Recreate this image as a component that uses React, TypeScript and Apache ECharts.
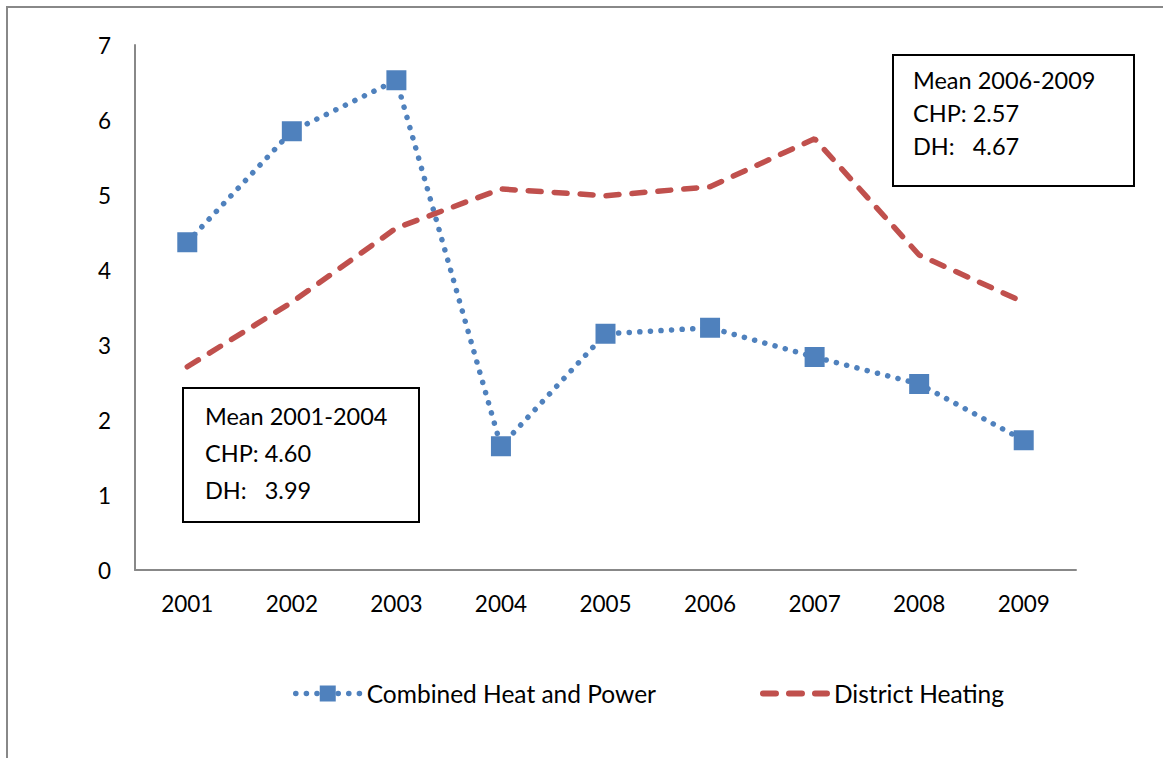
import React, { useEffect, useRef } from "react";
import * as echarts from "echarts";

const years = ["2001", "2002", "2003", "2004", "2005", "2006", "2007", "2008", "2009"];
const chpValues = [4.37, 5.85, 6.53, 1.65, 3.15, 3.23, 2.84, 2.48, 1.73];
const dhValues = [2.71, 3.57, 4.56, 5.08, 4.99, 5.11, 5.75, 4.2, 3.57];
const seriesNames = ["Combined Heat and Power", "District Heating"];
const box1Lines = ["Mean 2001-2004", "CHP: 4.60", "DH:   3.99"];
const box2Lines = ["Mean 2006-2009", "CHP: 2.57", "DH:   4.67"];

const FONT = "Lato, 'Open Sans', sans-serif";
const FS_AXIS = 22.5;
const FS_BOX = 23.5;
const FS_LEG = 24.5;
const CHP_COLOR = "#4F81BD";
const DH_COLOR = "#C0504D";
const CHP_DASH = [0.1, 10.5];
const DH_DASH = [13, 13];

export default function App() {
  const ref = useRef<HTMLDivElement>(null);
  useEffect(() => {
    if (!ref.current) return;
    const chart = echarts.init(ref.current, null, { renderer: "svg" });
    const boxText = (lines: string[], x: number, y: number, gap: number) =>
      lines.map((t, i) => ({
        type: "text",
        left: x,
        top: y + i * gap,
        style: { text: t, font: `${FS_BOX}px ${FONT}`, fill: "#000" },
      }));
    chart.setOption({
      animation: false,
      textStyle: { fontFamily: FONT },
      grid: { left: 135, right: 87, top: 45, bottom: 188, containLabel: false },
      xAxis: {
        type: "category",
        data: years,
        boundaryGap: true,
        axisLine: { lineStyle: { color: "#888", width: 2 } },
        axisTick: { show: false },
        axisLabel: { color: "#000", fontSize: FS_AXIS, margin: 22, fontFamily: FONT },
      },
      yAxis: {
        type: "value",
        min: 0,
        max: 7,
        interval: 1,
        axisLine: { show: true, lineStyle: { color: "#888", width: 2 } },
        axisTick: { show: false },
        splitLine: { show: false },
        axisLabel: { color: "#000", fontSize: FS_AXIS, margin: 24, fontFamily: FONT },
      },
      legend: {
        bottom: 47,
        left: 288,
        itemWidth: 64,
        itemHeight: 20,
        itemGap: 104,
        textStyle: { fontSize: FS_LEG, color: "#000", fontFamily: FONT, padding: [0, 0, 0, 2] },
        data: [
          {
            name: seriesNames[0],
            lineStyle: { color: CHP_COLOR, width: 5.5, type: CHP_DASH, cap: "round" },
          },
          {
            name: seriesNames[1],
            itemStyle: { opacity: 0 },
            lineStyle: { color: DH_COLOR, width: 6, type: DH_DASH, cap: "round" },
          },
        ],
      },
      series: [
        {
          name: seriesNames[0],
          type: "line",
          data: chpValues,
          symbol: "rect",
          symbolSize: 20,
          itemStyle: { color: CHP_COLOR },
          lineStyle: { color: CHP_COLOR, width: 5.5, type: CHP_DASH, cap: "round" },
        },
        {
          name: seriesNames[1],
          type: "line",
          data: dhValues,
          symbol: "none",
          itemStyle: { color: DH_COLOR },
          lineStyle: { color: DH_COLOR, width: 5.5, type: DH_DASH, cap: "round" },
        },
      ],
      graphic: [
        {
          type: "rect",
          shape: { x: 7, y: 7, width: 1300, height: 900 },
          style: { fill: "none", stroke: "#888", lineWidth: 2 },
          silent: true,
        },
        {
          type: "rect",
          shape: { x: 183, y: 388, width: 236, height: 134 },
          style: { fill: "#fff", stroke: "#000", lineWidth: 2 },
        },
        ...boxText(box1Lines, 205, 404, 37),
        {
          type: "rect",
          shape: { x: 893, y: 55, width: 241, height: 131 },
          style: { fill: "#fff", stroke: "#000", lineWidth: 2 },
        },
        ...boxText(box2Lines, 913, 68, 33),
      ],
    });
    return () => chart.dispose();
  }, []);
  return (
    <div
      ref={ref}
      style={{ position: "fixed", left: 0, top: 0, width: 1163, height: 758, background: "#fff" }}
    />
  );
}
